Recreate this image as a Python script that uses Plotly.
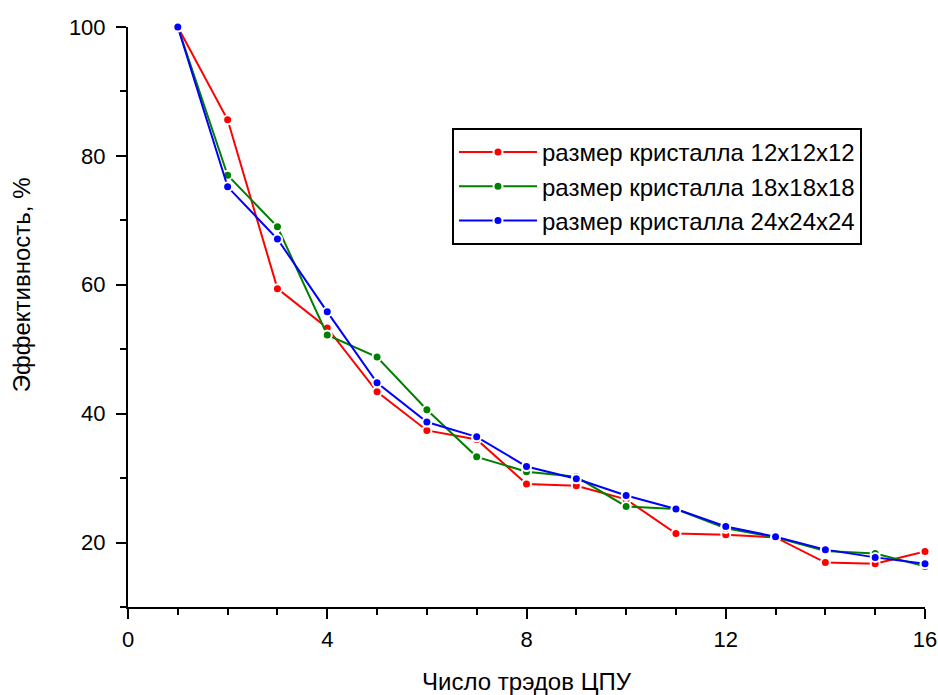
import plotly.graph_objects as go

threads = list(range(1, 17))
eff_12 = [100, 85.6, 59.4, 53.3, 43.4, 37.4, 36.0, 29.1, 28.8, 26.7, 21.4, 21.2, 20.8, 16.9, 16.7, 18.6]
eff_18 = [100, 77.0, 69.0, 52.2, 48.8, 40.6, 33.3, 31.0, 30.2, 25.6, 25.2, 22.2, 20.8, 18.7, 18.3, 16.3]
eff_24 = [100, 75.2, 67.1, 55.8, 44.8, 38.7, 36.4, 31.8, 29.9, 27.3, 25.2, 22.5, 20.9, 18.9, 17.7, 16.7]

names = ["размер кристалла 12x12x12", "размер кристалла 18x18x18", "размер кристалла 24x24x24"]
colors = ["#FF0000", "#008000", "#0000FF"]
series = [eff_12, eff_18, eff_24]

x_ticks = [0, 4, 8, 12, 16]
y_ticks = [20, 40, 60, 80, 100]

FONT = "Liberation Sans, Arial, sans-serif"

fig = go.Figure()
for name, col, vals in zip(names, colors, series):
    fig.add_trace(go.Scatter(
        x=threads, y=vals, name=name, mode="lines+markers",
        line=dict(color=col, width=2),
        marker=dict(color=col, size=9, symbol="circle", line=dict(color="white", width=2)),
        cliponaxis=False,
    ))

axis_common = dict(
    showgrid=False, zeroline=False, showline=True, linecolor="black", linewidth=2,
    ticks="outside", ticklen=10, tickwidth=2, tickcolor="black",
    tickfont=dict(family=FONT, size=22, color="black"),
    mirror=False, automargin=False,
)

fig.update_xaxes(
    range=[0, 16], tickmode="array", tickvals=x_ticks, ticktext=[str(v) for v in x_ticks],
    minor=dict(dtick=1, ticklen=6, tickwidth=2, tickcolor="black", ticks="outside"),
    title=dict(text="Число трэдов ЦПУ", font=dict(family=FONT, size=24, color="black"), standoff=34),
    ticklabelstandoff=2,
    **axis_common,
)
fig.update_yaxes(
    range=[10, 100], tickmode="array", tickvals=y_ticks, ticktext=[str(v) for v in y_ticks],
    minor=dict(tickvals=[10, 30, 50, 70, 90], ticklen=6, tickwidth=2, tickcolor="black", ticks="outside"),
    ticklabelstandoff=6,
    **axis_common,
)

fig.add_annotation(
    text="Эффективность, %", textangle=-90,
    xref="paper", yref="paper", x=-0.134, y=0.555,
    xanchor="center", yanchor="middle", showarrow=False,
    font=dict(family=FONT, size=24, color="black"),
)

fig.update_layout(
    width=938, height=695,
    margin=dict(l=128, r=13, t=27, b=88),
    plot_bgcolor="white", paper_bgcolor="white",
    font=dict(family=FONT, size=24, color="black"),
    showlegend=True,
    legend=dict(
        x=0.4065, y=0.826, xanchor="left", yanchor="top",
        bgcolor="white", bordercolor="black", borderwidth=2,
        font=dict(family=FONT, size=24, color="black"),
        itemwidth=78,
        tracegroupgap=0,
    ),
)

fig.write_html("out.html")
